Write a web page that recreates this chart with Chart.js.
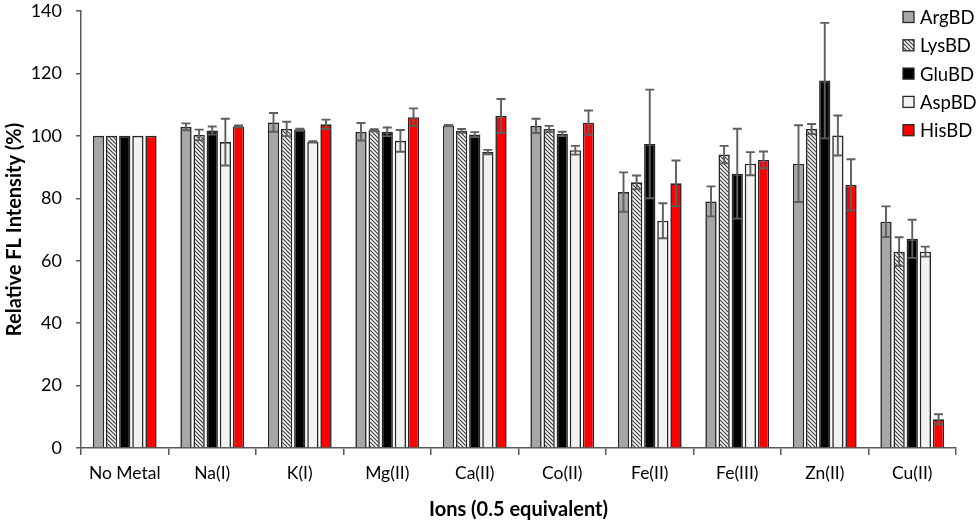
<!DOCTYPE html>
<html>
<head>
<meta charset="utf-8">
<script src="https://cdn.jsdelivr.net/npm/chart.js@4.4.0/dist/chart.umd.min.js"></script>
<style>
  html, body { margin: 0; padding: 0; background: #fff; }
  #contenedor { width: 979px; height: 525px; position: relative; }
</style>
</head>
<body>
<div id="contenedor"><canvas id="grafica"></canvas></div>
<script>
// Datos (valores medios y desviaciones)
const iones = ['No Metal', 'Na(I)', 'K(I)', 'Mg(II)', 'Ca(II)', 'Co(II)', 'Fe(II)', 'Fe(III)', 'Zn(II)', 'Cu(II)'];
const series = ['ArgBD', 'LysBD', 'GluBD', 'AspBD', 'HisBD'];

const argBD    = [100, 102.9, 104.3, 101.3, 103.3, 103.2, 82.0, 79.0, 91.1, 72.5];
const argErr   = [0,   1.1,   3.0,   2.8,   0.2,   2.3,   6.3,  4.8,  12.3, 4.9];
const lysBD    = [100, 100.3, 102.2, 101.8, 101.6, 102.2, 85.1, 94.0, 102.2, 62.9];
const lysErr   = [0,   1.7,   2.3,   0.3,   0.6,   1.0,   2.2,  2.8,  1.6,  4.6];
const gluBD    = [100, 101.7, 102.0, 101.3, 100.4, 100.6, 97.4, 87.9, 117.7, 67.0];
const gluErr   = [0,   1.3,   0.3,   1.4,   0.8,   0.7,   17.4, 14.4, 18.5, 6.1];
const aspBD    = [100, 98.0,  98.1,  98.4,  94.8,  95.4,  72.8, 91.1, 100.1, 62.9];
const aspErr   = [0,   7.5,   0.2,   3.5,   0.7,   1.4,   5.6,  3.7,  6.4,  1.6];
const hisBD    = [100, 103.0, 103.7, 106.0, 106.4, 104.2, 84.8, 92.3, 84.3, 9.2];
const hisErr   = [0,   0.3,   1.5,   2.8,   5.4,   3.9,   7.3,  2.7,  8.2,  1.6];

const yTicks = [0, 20, 40, 60, 80, 100, 120, 140];

// Patron rayado para LysBD
function crearRayado() {
    const c = document.createElement('canvas');
    c.width = 4; c.height = 4;
    const g = c.getContext('2d');
    g.fillStyle = '#ffffff';
    g.fillRect(0, 0, 4, 4);
    g.strokeStyle = '#3a3a3a';
    g.lineWidth = 1.2;
    g.beginPath();
    g.moveTo(-1, -1); g.lineTo(5, 5);
    g.moveTo(-1, 3); g.lineTo(1, 5);
    g.moveTo(3, -1); g.lineTo(5, 1);
    g.stroke();
    return g.createPattern(c, 'repeat');
}

const rellenos = ['#a6a6a6', crearRayado(), '#000000', '#f2f2f2', '#ff0000'];
const valores = [argBD, lysBD, gluBD, aspBD, hisBD];
const errores = [argErr, lysErr, gluErr, aspErr, hisErr];

const datasets = series.map((nombre, i) => ({
    label: nombre,
    data: valores[i],
    errores: errores[i],
    backgroundColor: rellenos[i],
    borderColor: '#262626',
    borderWidth: 1.6,
    borderSkipped: 'bottom',
    categoryPercentage: 0.75,
    barPercentage: 0.86
}));

// Barras de error
const barrasError = {
    id: 'barrasError',
    afterDatasetsDraw(chart) {
        const ctx = chart.ctx;
        const y = chart.scales.y;
        ctx.save();
        ctx.strokeStyle = '#5f5f5f';
        ctx.lineWidth = 1.9;
        chart.data.datasets.forEach((ds, i) => {
            const meta = chart.getDatasetMeta(i);
            meta.data.forEach((barra, j) => {
                const e = ds.errores[j];
                if (!e) return;
                const v = ds.data[j];
                const yArriba = y.getPixelForValue(v + e);
                const yAbajo = y.getPixelForValue(v - e);
                const x = barra.x;
                ctx.beginPath();
                ctx.moveTo(x, yArriba); ctx.lineTo(x, yAbajo);
                ctx.moveTo(x - 4.5, yArriba); ctx.lineTo(x + 4.5, yArriba);
                ctx.moveTo(x - 4.5, yAbajo); ctx.lineTo(x + 4.5, yAbajo);
                ctx.stroke();
            });
        });
        ctx.restore();
    }
};

// Leyenda dentro del area, arriba a la derecha
const leyenda = {
    id: 'leyenda',
    afterDraw(chart) {
        const ctx = chart.ctx;
        ctx.save();
        ctx.font = '18.5px Lato';
        ctx.textBaseline = 'middle';
        chart.data.datasets.forEach((ds, i) => {
            const yc = 17 + i * 28.3;
            ctx.fillStyle = ds.backgroundColor;
            ctx.fillRect(903, yc - 5.5, 11, 11);
            ctx.strokeStyle = '#262626';
            ctx.lineWidth = 1.3;
            ctx.strokeRect(903, yc - 5.5, 11, 11);
            ctx.fillStyle = '#000';
            ctx.fillText(ds.label, 920, yc + 1);
        });
        ctx.restore();
    }
};

const ctx = document.getElementById('grafica').getContext('2d');
new Chart(ctx, {
    type: 'bar',
    data: { labels: iones, datasets: datasets },
    plugins: [barrasError, leyenda],
    options: {
        responsive: true,
        maintainAspectRatio: false,
        animation: false,
        layout: { padding: { top: 11, right: 23, left: 0, bottom: 0 } },
        plugins: { legend: { display: false }, tooltip: { enabled: false } },
        scales: {
            x: {
                grid: { offset: true, drawOnChartArea: false, drawTicks: true, tickLength: 7, color: '#595959', lineWidth: 1.5 },
                border: { color: '#595959', width: 1.5 },
                ticks: { color: '#000', font: { family: 'Lato', size: 17.5 }, padding: 8, maxRotation: 0 },
                title: { display: true, text: 'Ions (0.5 equivalent)', color: '#000', font: { family: 'Lato', size: 20, weight: 'bold' }, padding: { top: 4, bottom: 3 } },
                afterFit(s) { s.height = 77; }
            },
            y: {
                min: 0,
                max: 140,
                afterBuildTicks(s) { s.ticks = yTicks.map(v => ({ value: v })); },
                grid: { drawOnChartArea: false, drawTicks: true, tickLength: 5, color: '#595959', lineWidth: 1.5 },
                border: { color: '#595959', width: 1.5 },
                ticks: { color: '#000', font: { family: 'Lato', size: 18 }, padding: 14 },
                title: { display: true, text: 'Relative FL Intensity (%)', color: '#000', font: { family: 'Lato', size: 20, weight: 'bold' }, padding: { top: 3, bottom: 4 } },
                afterFit(s) { s.width = 81; s.paddingTop = 0; s.paddingBottom = 0; }
            }
        }
    }
});
</script>
</body>
</html>
